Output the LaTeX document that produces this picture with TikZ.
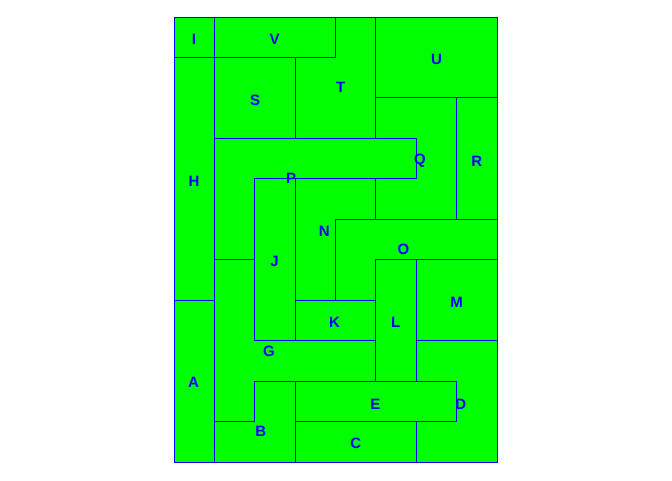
\documentclass[tikz,border=0pt]{standalone}
\usepackage{fontspec}
\setmainfont{Liberation Sans}
\definecolor{tgreen}{HTML}{00FF00}
\definecolor{tblue}{HTML}{0000FF}
\tikzset{
  piece/.style={draw=tblue, line width=1pt, fill=tgreen, line join=miter},
  lab/.style={text=tblue, font=\fontsize{15}{15}\selectfont\bfseries, inner sep=0pt, anchor=center}
}
\begin{document}
\begin{tikzpicture}[x=1pt,y=-1pt]
\useasboundingbox (0,0) rectangle (672,480);
\begin{scope}[shift={(174,17)},x=40.375pt,y=-40.4545pt]
% I
\draw[piece] (0,0) rectangle (1,1);
% V
\draw[piece] (1,0) rectangle (4,1);
% U
\draw[piece] (5,0) rectangle (8,2);
% T
\draw[piece] (4,0) -- (5,0) -- (5,3) -- (3,3) -- (3,1) -- (4,1) -- cycle;
% S
\draw[piece] (1,1) rectangle (3,3);
% H
\draw[piece] (0,1) rectangle (1,7);
% A
\draw[piece] (0,7) rectangle (1,11);
% P
\draw[piece] (1,3) -- (6,3) -- (6,4) -- (2,4) -- (2,6) -- (1,6) -- cycle;
% Q
\draw[piece] (5,2) -- (7,2) -- (7,5) -- (5,5) -- (5,4) -- (6,4) -- (6,3) -- (5,3) -- cycle;
% R
\draw[piece] (7,2) rectangle (8,5);
% N
\draw[piece] (3,4) -- (5,4) -- (5,5) -- (4,5) -- (4,7) -- (3,7) -- cycle;
% O
\draw[piece] (4,5) -- (8,5) -- (8,6) -- (5,6) -- (5,7) -- (4,7) -- cycle;
% J
\draw[piece] (2,4) rectangle (3,8);
% K
\draw[piece] (3,7) rectangle (5,8);
% L
\draw[piece] (5,6) rectangle (6,9);
% M
\draw[piece] (6,6) rectangle (8,8);
% G
\draw[piece] (1,6) -- (2,6) -- (2,8) -- (5,8) -- (5,9) -- (2,9) -- (2,10) -- (1,10) -- cycle;
% B
\draw[piece] (2,9) -- (3,9) -- (3,11) -- (1,11) -- (1,10) -- (2,10) -- cycle;
% E
\draw[piece] (3,9) rectangle (7,10);
% C
\draw[piece] (3,10) rectangle (6,11);
% D
\draw[piece] (6,8) -- (8,8) -- (8,11) -- (6,11) -- (6,10) -- (7,10) -- (7,9) -- (6,9) -- cycle;
\end{scope}
\node[lab] (lI) at (194,39.8) {I};
\node[lab] (lV) at (274.5,39.8) {V};
\node[lab] (lU) at (436.5,59.8) {U};
\node[lab] (lT) at (340.7,87.8) {T};
\node[lab] (lS) at (255,100.5) {S};
\node[lab] (lH) at (194,181) {H};
\node[lab] (lQ) at (420,161) {Q};
\node[lab] (lR) at (476.7,161) {R};
\node[lab] (lP) at (291,178.2) {P};
\node[lab] (lN) at (324.3,231.5) {N};
\node[lab] (lO) at (403.5,249.5) {O};
\node[lab] (lJ) at (274.5,261.5) {J};
\node[lab] (lM) at (456.5,302.5) {M};
\node[lab] (lK) at (334.5,322.8) {K};
\node[lab] (lL) at (395.7,322.8) {L};
\node[lab] (lG) at (269,351.5) {G};
\node[lab] (lA) at (193.5,382.8) {A};
\node[lab] (lE) at (375.3,404.2) {E};
\node[lab] (lD) at (460.7,404.2) {D};
\node[lab] (lB) at (260.7,431) {B};
\node[lab] (lC) at (355.7,443.2) {C};
\end{tikzpicture}
\end{document}
